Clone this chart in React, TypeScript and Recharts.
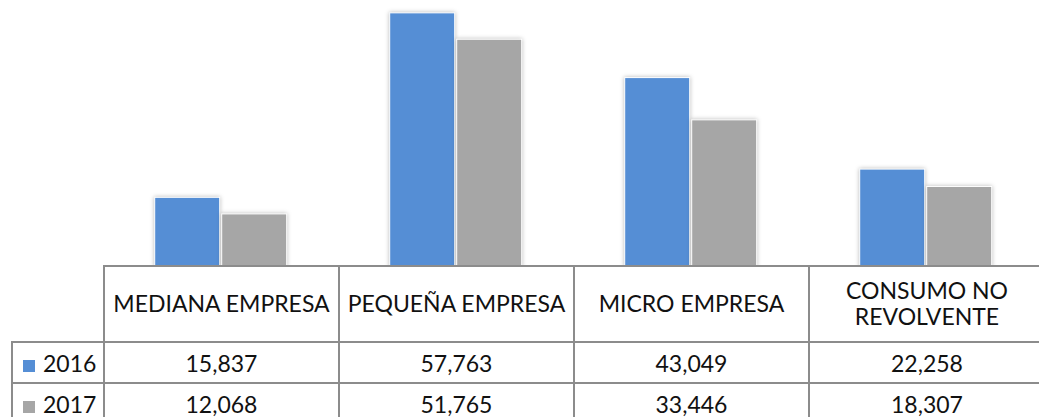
import { BarChart, Bar, XAxis, YAxis } from "recharts";

// Cartera por segmento, 2016 vs 2017

const CATEGORIES = ["MEDIANA EMPRESA", "PEQUEÑA EMPRESA", "MICRO EMPRESA", "CONSUMO NO REVOLVENTE"];
const HEADER_LINES = [["MEDIANA EMPRESA"], ["PEQUEÑA EMPRESA"], ["MICRO EMPRESA"], ["CONSUMO NO", "REVOLVENTE"]];
const VALUES_2016 = [15837, 57763, 43049, 22258];
const VALUES_2017 = [12068, 51765, 33446, 18307];
const SERIES = [
  { key: "y2016", label: "2016", color: "#558ED5", values: VALUES_2016 },
  { key: "y2017", label: "2017", color: "#A6A6A6", values: VALUES_2017 },
];

const FONT = "Lato, 'Open Sans', sans-serif";
const LINE = "2px solid #8c8c8c";
const LABEL_COL = 92;
const CAT_COL = 235;

const fmt = (v: number) => v.toLocaleString("en-US");

function ShadowBar(props: any) {
  const { x, y, width, height, fill } = props;
  if (!height || height <= 0) return null;
  return (
    <rect
      x={x}
      y={y}
      width={width}
      height={height}
      fill={fill}
      stroke="#ffffff"
      strokeWidth={1}
      style={{ filter: "drop-shadow(0px 0px 2px rgba(0,0,0,0.28))" }}
    />
  );
}

export default function App() {
  const data = CATEGORIES.map((name, i) => ({
    name,
    y2016: VALUES_2016[i],
    y2017: VALUES_2017[i],
  }));

  const cell: React.CSSProperties = {
    borderLeft: LINE,
    borderBottom: LINE,
    textAlign: "center",
    padding: 0,
    overflow: "hidden",
    whiteSpace: "nowrap",
  };

  return (
    <div
      style={{
        position: "absolute",
        left: 0,
        top: 0,
        width: 1039,
        height: 417,
        overflow: "hidden",
        background: "#fff",
        fontFamily: FONT,
      }}
    >
      <BarChart
        width={1060}
        height={267}
        data={data}
        margin={{ top: 3, right: 17, left: 103, bottom: 0 }}
        barCategoryGap="22%"
        barGap={2}
      >
        <XAxis dataKey="name" hide />
        <YAxis hide domain={[0, 60000]} />
        {SERIES.map((s) => (
          <Bar
            key={s.key}
            dataKey={s.key}
            fill={s.color}
            shape={ShadowBar}
            isAnimationActive={false}
          />
        ))}
      </BarChart>

      <table
        style={{
          position: "absolute",
          left: 11,
          top: 265,
          width: LABEL_COL + CAT_COL * 4,
          borderCollapse: "collapse",
          tableLayout: "fixed",
          fontSize: 23,
          color: "#111",
          lineHeight: "26px",
        }}
      >
        <colgroup>
          <col style={{ width: LABEL_COL }} />
          {CATEGORIES.map((c) => (
            <col key={c} style={{ width: CAT_COL }} />
          ))}
        </colgroup>
        <tbody>
          <tr style={{ height: 76 }}>
            <td style={{ borderBottom: LINE, padding: 0 }} />
            {HEADER_LINES.map((lines, i) => (
              <td key={i} style={{ ...cell, borderTop: LINE, paddingBottom: 2 }}>
                {lines.map((l, j) => (
                  <div key={j}>{l}</div>
                ))}
              </td>
            ))}
          </tr>
          {SERIES.map((s) => (
            <tr key={s.key} style={{ height: 41 }}>
              <td
                style={{
                  borderLeft: LINE,
                  borderBottom: LINE,
                  padding: "0 0 0 10px",
                  whiteSpace: "nowrap",
                }}
              >
                <span
                  style={{
                    display: "inline-block",
                    width: 12,
                    height: 12,
                    background: s.color,
                    marginRight: 8,
                  }}
                />
                {s.label}
              </td>
              {s.values.map((v, i) => (
                <td key={i} style={cell}>
                  {fmt(v)}
                </td>
              ))}
            </tr>
          ))}
        </tbody>
      </table>
    </div>
  );
}
